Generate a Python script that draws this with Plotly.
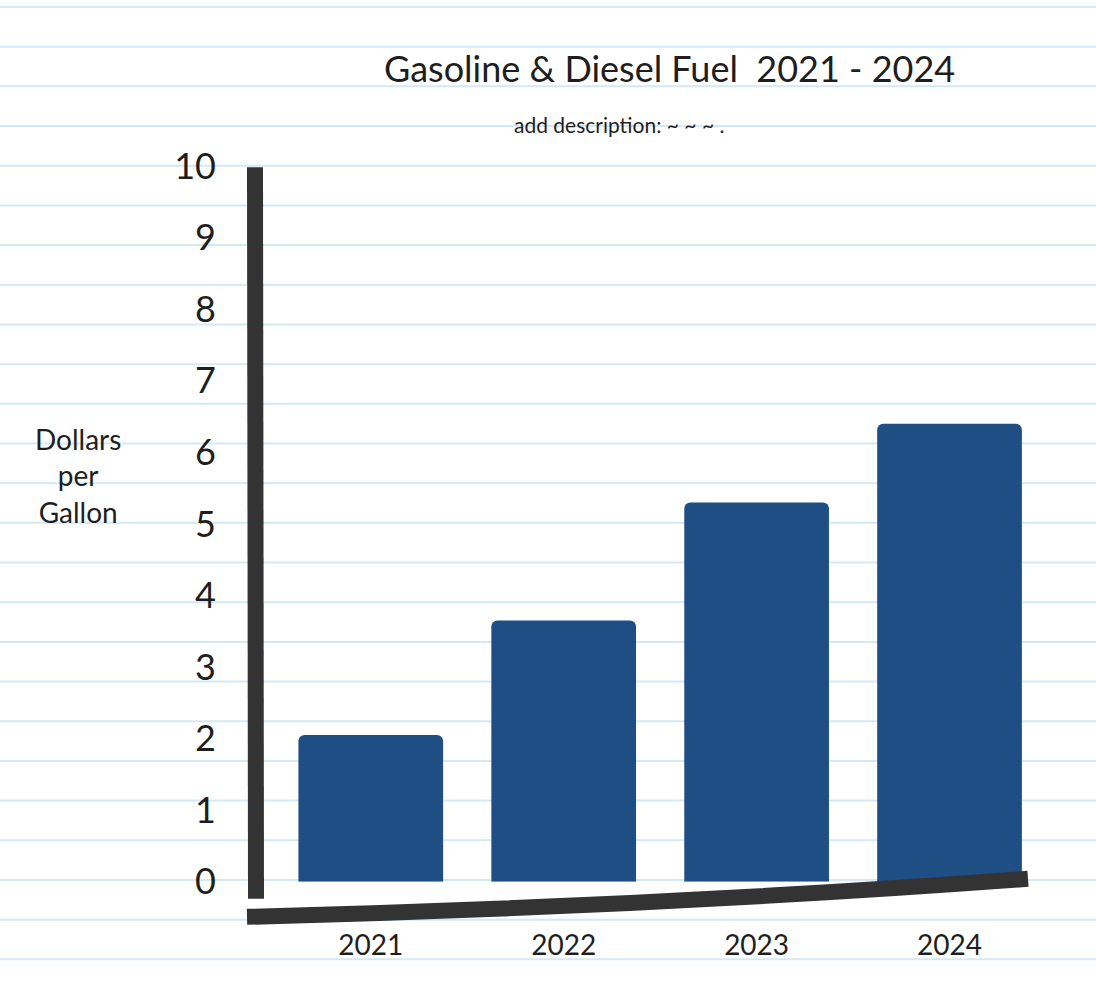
import plotly.graph_objects as go

# ---- data ----
years = ["2021", "2022", "2023", "2024"]
price_per_gallon = [2.05, 3.65, 5.3, 6.4]
y_ticks = [0, 1, 2, 3, 4, 5, 6, 7, 8, 9, 10]

title_text = "Gasoline &amp; Diesel Fuel  2021 - 2024"
subtitle_text = "add description: ~ ~ ~ ."
y_title = "Dollars<br>per<br>Gallon"

W, H = 1096, 1016      # figure size
REF_H = 993            # layout is designed in picture pixels
FONT = "Lato"
BAR = "#1f4e85"
RULE = "#d3e9f7"


def px(x):
    return x / W


def py(y):
    return 1 - y / REF_H


fig = go.Figure()
fig.add_trace(go.Bar(
    x=years, y=price_per_gallon,
    marker=dict(color=BAR, line=dict(width=0)),
    width=0.75,
    hoverinfo="x+y",
))

shapes = []
# ruled notebook lines
for k in range(26):
    yy = 7 + 39.6 * k
    shapes.append(dict(type="line", xref="paper", yref="paper",
                       x0=0, x1=1, y0=py(yy), y1=py(yy),
                       line=dict(color=RULE, width=2), layer="below"))
# hand-drawn y axis
shapes.append(dict(type="line", xref="paper", yref="paper",
                   x0=px(255), x1=px(256), y0=py(167), y1=py(897),
                   line=dict(color="#333333", width=16), layer="above"))
# hand-drawn slanted x axis
path = (f"M {px(247)} {py(915)} Q {px(650)} {py(905)} {px(1028)} {py(877)}")
shapes.append(dict(type="path", xref="paper", yref="paper", path=path,
                   line=dict(color="#333333", width=16), layer="above"))

annotations = [
    dict(text=title_text, xref="paper", yref="paper", x=px(670), y=py(68),
         xanchor="center", yanchor="middle",
         showarrow=False, font=dict(family=FONT, size=36, color="#1e1e1e")),
    dict(text=subtitle_text, xref="paper", yref="paper", x=px(619), y=py(124),
         xanchor="center", yanchor="middle",
         showarrow=False, font=dict(family=FONT, size=21, color="#1e1e1e")),
    dict(text=y_title, xref="paper", yref="paper", x=px(78), y=py(475),
         xanchor="center", yanchor="middle",
         showarrow=False, align="center",
         font=dict(family=FONT, size=28, color="#1e1e1e")),
]

fig.update_layout(
    width=W, height=H,
    margin=dict(l=0, r=0, t=0, b=0),
    paper_bgcolor="white", plot_bgcolor="rgba(0,0,0,0)",
    showlegend=False,
    barcornerradius=6,
    shapes=shapes,
    annotations=annotations,
    xaxis=dict(domain=[px(255), px(1046)], range=[-0.6, 3.5],
               showline=False, showgrid=False, zeroline=False,
               ticks="", ticklabelstandoff=44,
               tickfont=dict(family=FONT, size=28, color="#1e1e1e")),
    yaxis=dict(domain=[py(880), py(123)], range=[0, 10.6],
               tickvals=y_ticks, ticktext=[str(v) for v in y_ticks],
               showline=False, showgrid=False, zeroline=False,
               ticks="", ticklabelstandoff=38,
               tickfont=dict(family=FONT, size=36, color="#1e1e1e")),
)

post = ("document.documentElement.style.margin='0';"
        "document.body.style.margin='0';"
        "document.documentElement.style.overflow='hidden';"
        "document.body.style.overflow='hidden';")
fig.write_html("out.html", post_script=post,
               config={"displayModeBar": False})
